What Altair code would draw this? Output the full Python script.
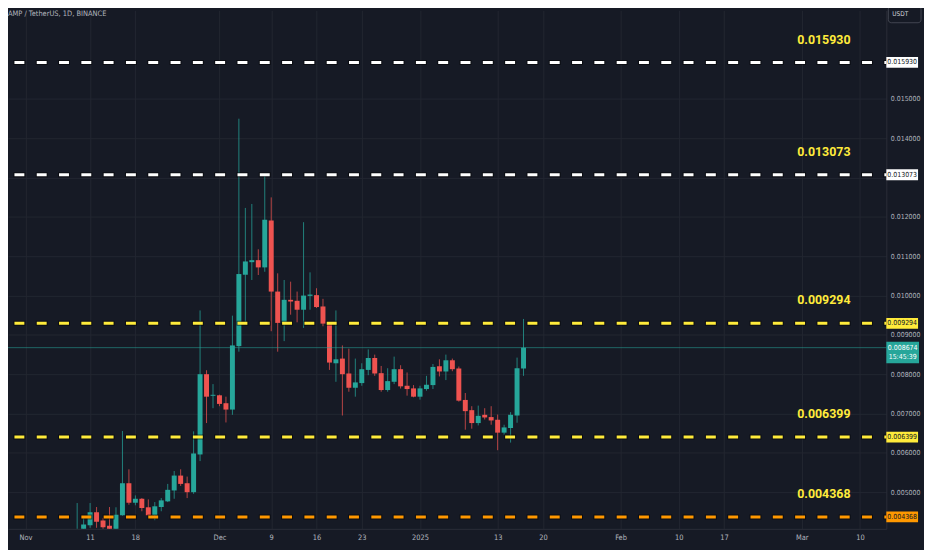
import json

import pandas as pd
import altair as alt

title_text = "AMP / TetherUS, 1D, BINANCE"
quote_ccy = "USDT"
countdown = "15:45:39"

# daily candles
days = pd.date_range("2024-11-09", "2025-01-17", freq="D")
opens = [
    0.003900, 0.004050, 0.004159, 0.004487, 0.004275, 0.004141, 0.004040, 0.004411,
    0.005225, 0.004729, 0.004830, 0.004613, 0.004411, 0.004620, 0.004764, 0.005041,
    0.005420, 0.005225, 0.004998, 0.005957, 0.007999, 0.007450,
    0.007462, 0.007261, 0.007099, 0.008713, 0.010529, 0.010849, 0.010900, 0.010716,
    0.011909, 0.010101, 0.009304, 0.009891, 0.009866, 0.009639, 0.009992, 0.010010,
    0.009722, 0.009286, 0.008277, 0.008396, 0.008017, 0.007654, 0.007773, 0.008108,
    0.008411, 0.008025, 0.007596, 0.007806, 0.008126, 0.007705, 0.007638,
    0.007427, 0.007621, 0.007722, 0.008201, 0.008068, 0.008353, 0.008144, 0.007344,
    0.007084, 0.006756, 0.006966, 0.006908, 0.006840, 0.006512, 0.006630, 0.006948,
    0.008144,
]
highs = [
    0.004721, 0.004368, 0.004721, 0.004620, 0.004343, 0.004620, 0.004613, 0.006555,
    0.005579, 0.004915, 0.004847, 0.004814, 0.004746, 0.004847, 0.005208, 0.005536,
    0.005579, 0.005394, 0.006545, 0.009621, 0.008100, 0.007747,
    0.007478, 0.007427, 0.009488, 0.014499, 0.012229, 0.012330, 0.011177, 0.013069,
    0.012497, 0.010565, 0.010396, 0.010353, 0.010101, 0.011866, 0.010590, 0.010186,
    0.009916, 0.009319, 0.009621, 0.008731, 0.008648, 0.008396, 0.008277, 0.008630,
    0.008497, 0.008209, 0.008151, 0.008446, 0.008227, 0.008043, 0.007722,
    0.007705, 0.007957, 0.008259, 0.008378, 0.008497, 0.008396, 0.008194, 0.007520,
    0.007185, 0.007200, 0.007134, 0.007185, 0.006973, 0.006713, 0.007034, 0.008421,
    0.009404,
]
lows = [
    0.003850, 0.004000, 0.004091, 0.004091, 0.004040, 0.003950, 0.004000, 0.004400,
    0.004678, 0.004663, 0.004512, 0.004400, 0.004285, 0.004512, 0.004746, 0.004830,
    0.005157, 0.004847, 0.004956, 0.005788, 0.006756, 0.007134,
    0.007185, 0.006771, 0.006966, 0.008572, 0.009286, 0.010396, 0.010522, 0.010605,
    0.009092, 0.008572, 0.008840, 0.009513, 0.009319, 0.009177, 0.009639, 0.009682,
    0.009218, 0.008108, 0.007806, 0.006948, 0.007553, 0.007427, 0.007705, 0.007974,
    0.007957, 0.007553, 0.007553, 0.007747, 0.007634, 0.007453, 0.007411,
    0.007352, 0.007579, 0.007621, 0.007942, 0.007849, 0.008075, 0.007301, 0.006587,
    0.006613, 0.006696, 0.006847, 0.006713, 0.006065, 0.006461, 0.006259, 0.006764,
    0.007957,
]
closes = [
    0.004000, 0.004174, 0.004487, 0.004242, 0.004108, 0.004000, 0.004426, 0.005225,
    0.004729, 0.004830, 0.004595, 0.004411, 0.004638, 0.004789, 0.005057, 0.005420,
    0.005208, 0.004998, 0.005982, 0.007999, 0.007427, 0.007475,
    0.007243, 0.007099, 0.008731, 0.010547, 0.010867, 0.010900, 0.010716, 0.011926,
    0.010101, 0.009304, 0.009891, 0.009848, 0.009639, 0.009999, 0.010025, 0.009707,
    0.009286, 0.008295, 0.008378, 0.007999, 0.007654, 0.007790, 0.008126, 0.008411,
    0.008017, 0.007596, 0.007823, 0.008126, 0.007690, 0.007621, 0.007427,
    0.007638, 0.007730, 0.008184, 0.008068, 0.008353, 0.008126, 0.007326, 0.007059,
    0.006756, 0.006940, 0.006898, 0.006822, 0.006512, 0.006645, 0.006966, 0.008151,
    0.008674,
]

# horizontal levels drawn on the chart
level_prices = [0.015930, 0.013073, 0.009294, 0.006399, 0.004368]
level_colors = ["#ffffff", "#ffffff", "#ffeb3b", "#ffeb3b", "#ff9800"]

price_ticks = [0.005, 0.006, 0.007, 0.008, 0.009, 0.010, 0.011, 0.012, 0.013, 0.014, 0.015]
tick_dates = ["2024-11-01", "2024-11-11", "2024-11-18", "2024-12-01", "2024-12-09",
              "2024-12-16", "2024-12-23", "2025-01-01", "2025-01-13", "2025-01-20",
              "2025-02-01", "2025-02-10", "2025-02-17", "2025-03-01", "2025-03-10"]
tick_labels = ["Nov", "11", "18", "Dec", "9", "16", "23", "2025", "13", "20",
               "Feb", "10", "17", "Mar", "10"]

BG = "#161a25"
GRID = "#222631"
UP = "#26a69a"
DOWN = "#ef5350"
TXT = "#b2b5be"
FONT = "DejaVu Sans Condensed, Roboto, sans-serif"
BOLD_FONT = "Roboto, sans-serif"

W, H = 886, 523
origin = pd.Timestamp("2024-11-01")
px_day = 6.6
x_lo = -12.7 / px_day
x_hi = x_lo + W / px_day
px_price = 39651
y_lo = 0.004368 - (H - 511) / px_price
y_hi = y_lo + H / px_price

df = pd.DataFrame({"date": days, "open": opens, "high": highs, "low": lows, "close": closes})
df["day"] = (df["date"] - origin).dt.days
df["dir"] = ["up" if c >= o else "down" for o, c in zip(df["open"], df["close"])]

tick_days = [(pd.Timestamp(d) - origin).days for d in tick_dates]

levels = pd.DataFrame({
    "price": level_prices,
    "color": level_colors,
    "label": [f"{p:.6f}" for p in level_prices],
})
cur = pd.DataFrame({"price": [closes[-1]], "label": [f"{closes[-1]:.6f}"], "cd": [countdown]})

x_scale = alt.Scale(domain=[x_lo, x_hi], nice=False, zero=False)
y_scale = alt.Scale(domain=[y_lo, y_hi], nice=False, zero=False)
color = alt.Color("dir:N", scale=alt.Scale(domain=["up", "down"], range=[UP, DOWN]), legend=None)

x_axis = alt.Axis(
    values=tick_days,
    labelExpr=f"{json.dumps(tick_labels)}[indexof({json.dumps(tick_days)}, datum.value)]",
    grid=True, gridColor=GRID, ticks=False, tickSize=0,
    domainColor="#2a2e39", labelColor=TXT, labelFont=FONT, labelFontSize=7.5,
    labelPadding=5, labelBaseline="top", labelFlush=False, labelOverlap=False, title=None,
)
y_axis = alt.Axis(
    orient="right", values=price_ticks,
    labelExpr="abs(datum.value - 0.013) < 1e-9 ? '' : format(datum.value, '.6f')",
    grid=True, gridColor=GRID, ticks=False, tickSize=0,
    domainColor="#2a2e39", labelColor=TXT, labelFont=FONT, labelFontSize=7,
    labelPadding=4, labelAlign="left", labelFlush=False, labelOverlap=False, title=None,
)

base = alt.Chart(df)
wicks = base.mark_rule(strokeWidth=1, opacity=0.75, clip=True).encode(
    x=alt.X("day:Q", scale=x_scale, axis=x_axis),
    y=alt.Y("low:Q", scale=y_scale, axis=y_axis),
    y2="high:Q",
    color=color,
)
bodies = base.mark_bar(width=5, clip=True).encode(
    x=alt.X("day:Q"), y=alt.Y("open:Q"), y2="close:Q", color=color
)

cur_line = alt.Chart(cur).mark_rule(color=UP, opacity=0.55, strokeWidth=1).encode(
    y=alt.Y("price:Q")
)

shadow = alt.Chart(levels).mark_rule(
    strokeWidth=5, strokeDash=[12, 10.5], strokeDashOffset=9, color="#000000", opacity=0.5
).encode(y=alt.Y("price:Q"))
lines = alt.Chart(levels).mark_rule(strokeWidth=3, strokeDash=[10, 12.5], strokeDashOffset=8).encode(
    y=alt.Y("price:Q"), color=alt.Color("color:N", scale=None)
)
level_text = alt.Chart(levels).mark_text(
    font=BOLD_FONT, fontSize=12.5, fontWeight="bold", color="#ffeb3b", dy=-23, align="center"
).encode(x=alt.value(823), y=alt.Y("price:Q"), text="label:N")

tag_path = "M-1,-0.34L1,-0.34L1,0.34L-1,0.34Z"
tags = alt.Chart(levels).mark_point(shape=tag_path, size=1024, filled=True, opacity=1).encode(
    x=alt.value(902), y=alt.Y("price:Q"), color=alt.Color("color:N", scale=None)
)
tag_text = alt.Chart(levels).mark_text(font=FONT, fontSize=7, color="#131722").encode(
    x=alt.value(902), y=alt.Y("price:Q"), text="label:N"
)

cur_tag = alt.Chart(cur).mark_point(
    shape="M-1,-0.36L1,-0.36L1,0.95L-1,0.95Z", size=1089, filled=True, opacity=1, color=UP
).encode(x=alt.value(902.5), y=alt.Y("price:Q"))
cur_text = alt.Chart(cur).mark_text(font=FONT, fontSize=7, color="#ffffff").encode(
    x=alt.value(902.5), y=alt.Y("price:Q"), text="label:N"
)
cur_cd = alt.Chart(cur).mark_text(font=FONT, fontSize=7, color="#ffffff", dy=9.5).encode(
    x=alt.value(902.5), y=alt.Y("price:Q"), text="cd:N"
)

head = alt.Chart(pd.DataFrame({"t": [title_text]})).mark_text(
    font=FONT, fontSize=7.5, color=TXT, align="left", baseline="middle"
).encode(x=alt.value(0), y=alt.value(4), text="t:N")

usdt_df = pd.DataFrame({"t": [quote_ccy]})
usdt_box = alt.Chart(usdt_df).mark_rect(
    fill=BG, stroke="#434651", strokeWidth=1, cornerRadius=3
).encode(x=alt.value(888), x2=alt.value(921), y=alt.value(-4), y2=alt.value(12.5))
usdt_text = alt.Chart(usdt_df).mark_text(
    font=FONT, fontSize=6.5, color="#d1d4dc", align="left", baseline="middle"
).encode(x=alt.value(892), y=alt.value(4), text="t:N")

chart = (
    alt.layer(
        wicks, bodies, cur_line, shadow, lines, level_text,
        tags, tag_text, cur_tag, cur_text, cur_cd, head, usdt_box, usdt_text,
    )
    .properties(
        width=W, height=H,
        autosize=alt.AutoSizeParams(type="none"),
        padding={"left": 0, "top": 0, "right": 38, "bottom": 19},
    )
    .configure(background=BG)
    .configure_view(stroke=None)
)

chart.save("out.html", embed_options={"renderer": "svg", "actions": False})
